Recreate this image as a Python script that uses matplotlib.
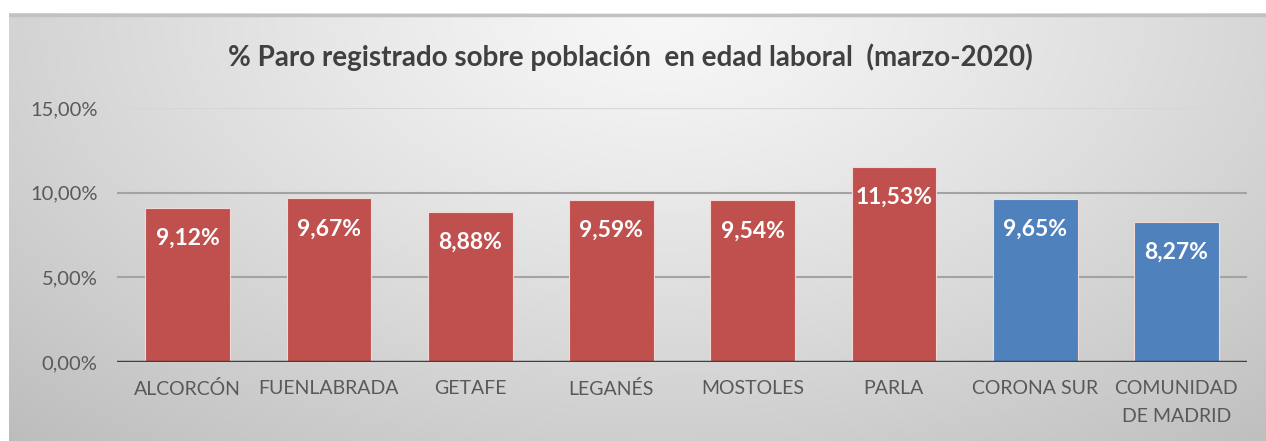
import numpy as np
import matplotlib
matplotlib.use("Agg")
import matplotlib.pyplot as plt
from matplotlib.ticker import FuncFormatter

# ==========================
# DATA
# ==========================
kategori = ["ALCORCÓN", "FUENLABRADA", "GETAFE", "LEGANÉS", "MOSTOLES",
            "PARLA", "CORONA SUR", "COMUNIDAD\nDE MADRID"]
nilai = [9.12, 9.67, 8.88, 9.59, 9.54, 11.53, 9.65, 8.27]
label_nilai = ["9,12%", "9,67%", "8,88%", "9,59%", "9,54%", "11,53%", "9,65%", "8,27%"]
warna = ["#C0504D"] * 6 + ["#4F81BD"] * 2
yticks = [0, 5, 10, 15]
judul = "% Paro registrado sobre población  en edad laboral  (marzo-2020)"

plt.rcParams["font.family"] = ["Lato", "DejaVu Sans"]

W, H = 1266, 441
fig = plt.figure(figsize=(W / 100, H / 100), dpi=100)
fig.patch.set_facecolor("white")

# ==========================
# BACKGROUND GRADIENT
# ==========================
x0 = 9 / W
y1 = 1 - 13 / H
bg = fig.add_axes([x0, 0, 1 - x0, y1])
gx, gy = np.meshgrid(np.linspace(0, 1, 400), np.linspace(0, 1, 150))
d = np.sqrt(((gx - 0.52) / 0.72) ** 2 + ((gy - 0.0) / 1.25) ** 2)
shade = 0.97 - 0.21 * np.clip(d, 0, 1.1) ** 1.2
img = np.dstack([shade, shade, shade])
bg.imshow(img, aspect="auto", extent=[0, 1, 0, 1], origin="upper")
bg.plot([0, 1], [0.995, 0.995], color="#c2c2c2", linewidth=2.5)
bg.set_xlim(0, 1)
bg.set_ylim(0, 1)
bg.axis("off")

# ==========================
# BAR CHART
# ==========================
ax = fig.add_axes([117 / W, 1 - 362 / H, (1247 - 117) / W, (362 - 108) / H])
ax.set_facecolor("none")

posisi = np.arange(len(kategori))
ax.bar(posisi, nilai, width=0.6, color=warna, edgecolor="#f2d8d6",
       linewidth=0.8, zorder=3)

for p, v, t in zip(posisi, nilai, label_nilai):
    ax.annotate(t, xy=(p, v), xytext=(0, -22), textcoords="offset points",
                ha="center", va="center", color="white", fontsize=16.5,
                fontweight="bold", zorder=4)

ax.set_xlim(-0.5, len(kategori) - 0.5)
ax.set_ylim(0, 15)
ax.set_yticks(yticks)
ax.yaxis.set_major_formatter(FuncFormatter(lambda v, _: f"{v:.2f}%".replace(".", ",")))

for yv in yticks[1:]:
    c = "#d6d6d6" if yv == 15 else "#a3a3a3"
    ax.axhline(yv, color=c, linewidth=1.5, zorder=1)
ax.axhline(0, color="#404040", linewidth=2.5, zorder=5)

ax.set_xticks(posisi)
ax.set_xticklabels(kategori, linespacing=1.75)
ax.tick_params(axis="both", length=0, labelcolor="#595959")
ax.tick_params(axis="y", pad=14, labelsize=14.5)
ax.tick_params(axis="x", pad=13, labelsize=14)
for s in ax.spines.values():
    s.set_visible(False)

fig.text(630 / W, 1 - 57 / H, judul, ha="center", va="center",
         fontsize=20, fontweight="bold", color="#404040")

fig.savefig("out.png", dpi=100)
